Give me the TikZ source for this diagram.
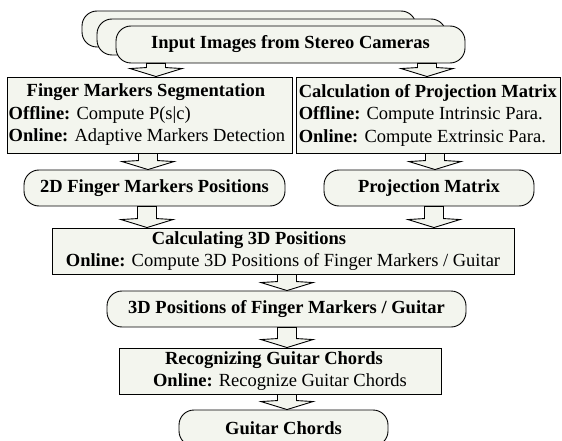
\documentclass[tikz,border=0pt]{standalone}
\usepackage{fontspec}
\setmainfont{Liberation Serif}
\usetikzlibrary{calc}
\definecolor{boxfill}{RGB}{243,245,238}
\tikzset{
  base/.style={draw=black, line width=0.9pt, fill=boxfill, inner sep=0pt,
    font=\fontsize{18.5}{22.5}\selectfont},
  rbox/.style={base, rounded corners=15pt, font=\bfseries\fontsize{18.5}{22}\selectfont},
  sbox/.style={base},
  txt/.style={inner sep=0pt, align=left, font=\fontsize{18.5}{22.5}\selectfont},
  arr/.style={draw=black, line width=0.9pt, fill=boxfill, line join=miter},
}
\newcommand\blockarrow[3]{%
  \path[arr] let \p1=(#1,0 |- #2.south), \p2=(#1,0 |- #3.north) in
    (\x1-9.5pt,\y1) -- (\x1-9.5pt,\y2+9pt) -- (\x1-26pt,\y2+8pt) -- (\x1,\y2)
    -- (\x1+26pt,\y2+8pt) -- (\x1+9.5pt,\y2+9pt) -- (\x1+9.5pt,\y1) -- cycle;}
\begin{document}
\begin{tikzpicture}[x=1pt,y=-1pt]
\useasboundingbox (0,0) rectangle (562,441);
% stacked input images
\node[rbox, minimum width=334pt, minimum height=36pt] (back) at (249,29) {};
\node[rbox, minimum width=349pt, minimum height=36pt] (mid) at (271.5,37) {};
\node[rbox, minimum width=349pt, minimum height=37pt] (input) at (290.5,44.5) {Input Images from Stereo Cameras};
% first row
\node[sbox, minimum width=285pt, minimum height=76pt] (seg) at (149.5,115) {};
\node[txt, anchor=west] (segtext) at ([xshift=2pt]seg.west)
  {\hspace*{18pt}\textbf{Finger Markers Segmentation}\\
   \textbf{Offline:} Compute P(s|c)\\
   \textbf{Online:} Adaptive Markers Detection};
\node[sbox, minimum width=264pt, minimum height=76pt] (proj) at (428,115) {};
\node[txt, anchor=west] (projtext) at ([xshift=3pt]proj.west)
  {\textbf{Calculation of Projection Matrix}\\
   \textbf{Offline:} Compute Intrinsic Para.\\
   \textbf{Online:} Compute Extrinsic Para.};
% second row
\node[rbox, minimum width=261pt, minimum height=36pt] (pos2d) at (154.5,188) {2D Finger Markers Positions};
\node[rbox, minimum width=210pt, minimum height=36pt] (pmat) at (429,188) {Projection Matrix};
% calculating 3D
\node[sbox, minimum width=462pt, minimum height=46pt, align=center] (calc) at (283,251)
  {\textbf{Calculating 3D Positions}\hspace*{68pt}\\
   \textbf{Online:} Compute 3D Positions of Finger Markers / Guitar};
\node[rbox, minimum width=359pt, minimum height=36pt] (pos3d) at (286.5,309) {3D Positions of Finger Markers / Guitar};
\node[sbox, minimum width=322pt, minimum height=46pt, align=center] (recog) at (280,371)
  {\textbf{Recognizing Guitar Chords}\hspace*{12pt}\\
   \textbf{Online:} Recognize Guitar Chords};
\node[rbox, minimum width=209pt, minimum height=36pt] (chords) at (283.5,428) {Guitar Chords};
% block arrows
\blockarrow{156}{input}{seg}
\blockarrow{427}{input}{proj}
\blockarrow{148}{seg}{pos2d}
\blockarrow{435}{proj}{pmat}
\blockarrow{147}{pos2d}{calc}
\blockarrow{434}{pmat}{calc}
\blockarrow{287}{calc}{pos3d}
\blockarrow{287}{pos3d}{recog}
\blockarrow{287}{recog}{chords}
\end{tikzpicture}
\end{document}
